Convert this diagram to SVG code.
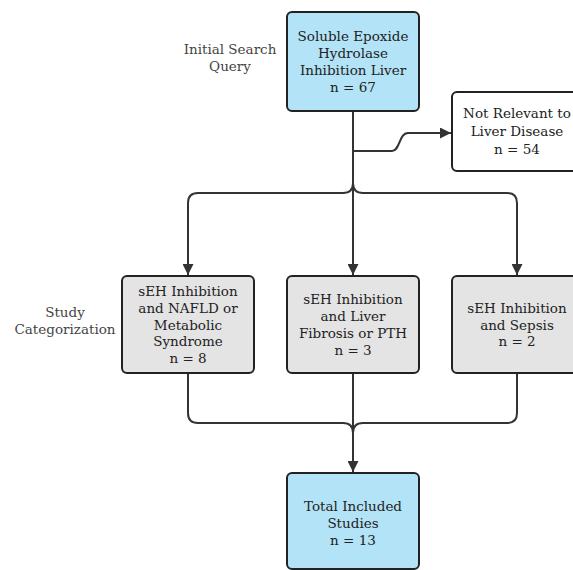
<svg xmlns="http://www.w3.org/2000/svg" width="573" height="570" viewBox="0 0 573 570">
<defs>
<marker id="arr" viewBox="0 0 10 10" refX="10" refY="5" markerWidth="6.5" markerHeight="5.5" markerUnits="strokeWidth" orient="auto">
<path d="M0,0 L10,5 L0,10 z" fill="#333"/>
</marker>
<style>
.box{stroke:#222;stroke-width:2}
.blue{fill:#b3e3f6}
.gray{fill:#e4e4e4}
.white{fill:#ffffff}
text{font-family:"DejaVu Serif","Liberation Serif",serif;font-size:13.5px;fill:#222;text-anchor:middle}
.lbl{fill:#444}
.c{fill:none;stroke:#333;stroke-width:2}
</style>
</defs>
<rect width="573" height="570" fill="#ffffff"/>
<g id="connectors">
<path class="c" d="M353,111 V275" marker-end="url(#arr)"/>
<path class="c" d="M353,151 H392 C400,151 399,133 408,133 H451" marker-end="url(#arr)"/>
<path class="c" d="M353,183 C353,190 349,193 343,193 H198 Q188,193 188,203 V275" marker-end="url(#arr)"/>
<path class="c" d="M353,183 C353,190 357,193 363,193 H507 Q517,193 517,203 V275" marker-end="url(#arr)"/>
<path class="c" d="M353,374 V472" marker-end="url(#arr)"/>
<path class="c" d="M188,374 V413 Q188,423 198,423 H343 C349,423 353,426 353,433"/>
<path class="c" d="M517,374 V413 Q517,423 507,423 H363 C357,423 353,426 353,433"/>
</g>
<g id="label-initial">
<text class="lbl" x="230" y="54">Initial Search</text>
<text class="lbl" x="230" y="71">Query</text>
</g>
<g id="label-study">
<text class="lbl" x="65" y="317">Study</text>
<text class="lbl" x="65" y="334">Categorization</text>
</g>
<g id="node-initial">
<rect class="box blue" x="287" y="12" width="132" height="99" rx="5"/>
<text x="353" y="41">Soluble Epoxide</text>
<text x="353" y="58">Hydrolase</text>
<text x="353" y="75">Inhibition Liver</text>
<text x="353" y="92">n = 67</text>
</g>
<g id="node-notrelevant">
<rect class="box white" x="452" y="92" width="132" height="79" rx="5"/>
<text x="517" y="118">Not Relevant to</text>
<text x="517" y="136">Liver Disease</text>
<text x="517" y="154">n = 54</text>
</g>
<g id="node-nafld">
<rect class="box gray" x="122" y="276" width="132" height="97" rx="5"/>
<text x="188" y="296">sEH Inhibition</text>
<text x="188" y="313">and NAFLD or</text>
<text x="188" y="330">Metabolic</text>
<text x="188" y="346">Syndrome</text>
<text x="188" y="363">n = 8</text>
</g>
<g id="node-fibrosis">
<rect class="box gray" x="287" y="276" width="132" height="97" rx="5"/>
<text x="353" y="304">sEH Inhibition</text>
<text x="353" y="321">and Liver</text>
<text x="353" y="338">Fibrosis or PTH</text>
<text x="353" y="355">n = 3</text>
</g>
<g id="node-sepsis">
<rect class="box gray" x="452" y="276" width="132" height="97" rx="5"/>
<text x="517" y="313">sEH Inhibition</text>
<text x="517" y="330">and Sepsis</text>
<text x="517" y="346">n = 2</text>
</g>
<g id="node-total">
<rect class="box blue" x="287" y="473" width="132" height="96" rx="5"/>
<text x="353" y="511">Total Included</text>
<text x="353" y="528">Studies</text>
<text x="353" y="545">n = 13</text>
</g>
</svg>
